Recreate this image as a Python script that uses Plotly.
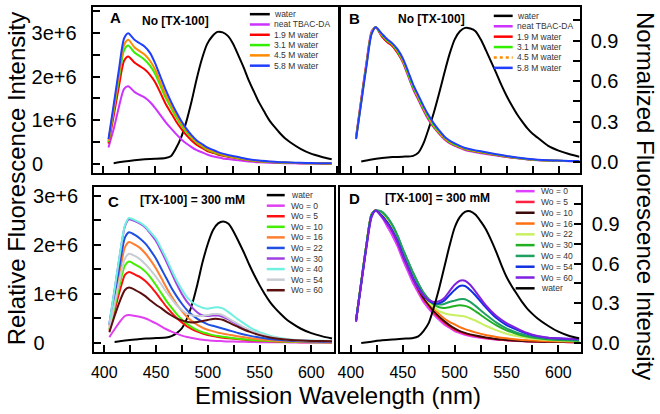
import plotly.graph_objects as go

# ---------------- data ----------------
WL = [405, 410, 415, 420, 424, 430, 435, 440, 445, 450, 455, 460, 465, 470, 475,
      480, 485, 490, 495, 500, 505, 510, 515, 520, 530, 540, 550, 560, 570, 580,
      590, 600, 610, 620]
WL_WATER = [410, 420, 430, 440, 450, 460, 465, 470, 475, 480, 485, 490, 495, 500,
            505, 510, 515, 520, 525, 530, 535, 540, 545, 550, 555, 560, 565, 570,
            575, 580, 590, 600, 610, 620]

# Panel A: relative intensity (units of 1e6)
A_WATER = [0.02, 0.06, 0.09, 0.11, 0.12, 0.14, 0.18, 0.36, 0.61, 0.97, 1.43, 1.95, 2.40, 2.74,
           2.92, 3.02, 3.01, 2.93, 2.75, 2.49, 2.22, 1.92, 1.66, 1.41, 1.20, 1.00, 0.85, 0.71,
           0.59, 0.50, 0.35, 0.24, 0.17, 0.11]
A_NEAT = [0.38, 0.80, 1.30, 1.72, 1.78, 1.65, 1.58, 1.52, 1.42, 1.28, 1.12, 0.96, 0.82, 0.69, 0.57,
          0.47, 0.39, 0.32, 0.27, 0.22, 0.18, 0.155, 0.13, 0.115, 0.085, 0.06, 0.043, 0.032, 0.024,
          0.019, 0.015, 0.013, 0.011, 0.01]
A_19M = [0.47, 1.10, 1.77, 2.36, 2.46, 2.32, 2.24, 2.16, 2.04, 1.87, 1.63, 1.38, 1.18, 0.98, 0.81,
         0.66, 0.54, 0.44, 0.37, 0.30, 0.26, 0.22, 0.19, 0.165, 0.125, 0.085, 0.061, 0.046, 0.034,
         0.027, 0.022, 0.018, 0.016, 0.014]
A_31M = [0.50, 1.22, 1.95, 2.60, 2.71, 2.55, 2.47, 2.38, 2.25, 2.06, 1.79, 1.52, 1.30, 1.08, 0.89,
         0.73, 0.60, 0.49, 0.41, 0.33, 0.28, 0.24, 0.21, 0.18, 0.135, 0.093, 0.067, 0.05, 0.037,
         0.029, 0.023, 0.02, 0.017, 0.015]
A_45M = [0.53, 1.28, 2.04, 2.72, 2.84, 2.67, 2.58, 2.50, 2.36, 2.16, 1.87, 1.59, 1.36, 1.14, 0.94,
         0.77, 0.63, 0.51, 0.43, 0.35, 0.30, 0.26, 0.22, 0.19, 0.145, 0.10, 0.072, 0.054, 0.04,
         0.031, 0.025, 0.021, 0.018, 0.016]
A_58M = [0.57, 1.35, 2.15, 2.87, 2.99, 2.84, 2.76, 2.68, 2.54, 2.30, 2.00, 1.70, 1.44, 1.20, 0.99,
         0.81, 0.66, 0.54, 0.46, 0.38, 0.33, 0.28, 0.24, 0.21, 0.16, 0.11, 0.08, 0.06, 0.045,
         0.035, 0.028, 0.024, 0.02, 0.018]

# Panel B: normalized intensity
B_WATER = [0.005, 0.02, 0.03, 0.037, 0.04, 0.046, 0.07, 0.14, 0.25, 0.37, 0.51, 0.66, 0.80, 0.91,
           0.97, 0.995, 0.99, 0.97, 0.91, 0.83, 0.745, 0.66, 0.57, 0.49, 0.42, 0.355, 0.30, 0.25,
           0.21, 0.18, 0.12, 0.085, 0.06, 0.04]
B_NEAT = [0.19, 0.47, 0.74, 0.97, 1.0, 0.93, 0.89, 0.86, 0.81, 0.74, 0.64, 0.54, 0.46, 0.38, 0.31,
          0.255, 0.21, 0.17, 0.14, 0.12, 0.105, 0.09, 0.08, 0.073, 0.06, 0.048, 0.037, 0.028, 0.02,
          0.014, 0.011, 0.009, 0.007, 0.006]
B_19M = [0.18, 0.46, 0.73, 0.96, 1.0, 0.93, 0.89, 0.86, 0.81, 0.745, 0.65, 0.55, 0.47, 0.39, 0.32,
         0.26, 0.215, 0.175, 0.145, 0.125, 0.11, 0.095, 0.085, 0.078, 0.065, 0.052, 0.04, 0.03, 0.021,
         0.015, 0.012, 0.01, 0.008, 0.007]
B_31M = [0.18, 0.45, 0.72, 0.96, 1.0, 0.94, 0.90, 0.87, 0.82, 0.75, 0.655, 0.555, 0.475, 0.395, 0.325,
         0.265, 0.218, 0.178, 0.148, 0.128, 0.112, 0.097, 0.087, 0.08, 0.067, 0.054, 0.042, 0.031, 0.022,
         0.015, 0.012, 0.01, 0.008, 0.007]
B_45M = [0.18, 0.45, 0.72, 0.96, 1.0, 0.94, 0.905, 0.875, 0.825, 0.755, 0.66, 0.56, 0.48, 0.40, 0.33,
         0.27, 0.22, 0.18, 0.15, 0.13, 0.114, 0.099, 0.089, 0.082, 0.069, 0.056, 0.043, 0.032, 0.022,
         0.015, 0.012, 0.01, 0.008, 0.007]
B_58M = [0.17, 0.44, 0.71, 0.95, 1.0, 0.95, 0.91, 0.88, 0.835, 0.77, 0.675, 0.575, 0.495, 0.415, 0.345,
         0.285, 0.235, 0.19, 0.16, 0.138, 0.12, 0.105, 0.095, 0.087, 0.073, 0.059, 0.046, 0.034, 0.024,
         0.017, 0.013, 0.011, 0.009, 0.008]

# Panel C: relative intensity (units of 1e6), [TX-100] = 300 mM
C_WATER = [0.02, 0.05, 0.07, 0.09, 0.10, 0.11, 0.14, 0.20, 0.30, 0.50, 0.80, 1.20, 1.65, 2.02,
           2.30, 2.44, 2.48, 2.43, 2.27, 2.06, 1.84, 1.60, 1.38, 1.18, 1.00, 0.84, 0.71, 0.60,
           0.50, 0.42, 0.29, 0.20, 0.14, 0.09]
C_W0 = [0.12, 0.28, 0.43, 0.55, 0.57, 0.55, 0.53, 0.50, 0.45, 0.40, 0.34, 0.28, 0.23, 0.19, 0.15,
        0.12, 0.10, 0.08, 0.065, 0.055, 0.045, 0.04, 0.035, 0.03, 0.025, 0.02, 0.017, 0.015, 0.013,
        0.012, 0.011, 0.01, 0.01, 0.01]
C_W5 = [0.25, 0.66, 1.06, 1.39, 1.45, 1.39, 1.34, 1.26, 1.15, 1.02, 0.88, 0.74, 0.62, 0.51, 0.42,
        0.34, 0.28, 0.23, 0.19, 0.16, 0.14, 0.12, 0.105, 0.095, 0.075, 0.057, 0.043, 0.033, 0.026,
        0.021, 0.017, 0.015, 0.013, 0.012]
C_W10 = [0.28, 0.74, 1.20, 1.58, 1.66, 1.60, 1.54, 1.45, 1.33, 1.18, 1.02, 0.86, 0.72, 0.59, 0.48,
         0.39, 0.32, 0.26, 0.22, 0.19, 0.16, 0.14, 0.125, 0.11, 0.085, 0.065, 0.05, 0.038, 0.03,
         0.024, 0.02, 0.017, 0.015, 0.013]
C_W16 = [0.33, 0.90, 1.45, 1.95, 2.06, 2.00, 1.93, 1.82, 1.68, 1.52, 1.33, 1.13, 0.95, 0.79, 0.65,
         0.53, 0.44, 0.37, 0.31, 0.27, 0.24, 0.21, 0.19, 0.17, 0.13, 0.10, 0.075, 0.055, 0.04,
         0.03, 0.025, 0.02, 0.018, 0.016]
C_W22 = [0.37, 0.98, 1.60, 2.15, 2.26, 2.20, 2.12, 2.02, 1.88, 1.72, 1.52, 1.32, 1.12, 0.95, 0.80,
         0.67, 0.57, 0.49, 0.43, 0.38, 0.35, 0.32, 0.29, 0.26, 0.20, 0.15, 0.11, 0.08, 0.06,
         0.045, 0.035, 0.03, 0.027, 0.025]
C_W30 = [0.40, 1.08, 1.78, 2.38, 2.52, 2.48, 2.43, 2.35, 2.22, 2.08, 1.88, 1.66, 1.43, 1.20, 1.00,
         0.84, 0.72, 0.62, 0.56, 0.55, 0.56, 0.56, 0.53, 0.48, 0.36, 0.26, 0.18, 0.12, 0.085,
         0.06, 0.048, 0.042, 0.038, 0.035]
C_W40 = [0.40, 1.10, 1.80, 2.40, 2.55, 2.50, 2.45, 2.37, 2.25, 2.13, 1.93, 1.72, 1.49, 1.27, 1.09,
         0.93, 0.83, 0.76, 0.72, 0.70, 0.72, 0.73, 0.70, 0.63, 0.47, 0.33, 0.22, 0.15, 0.10,
         0.07, 0.055, 0.05, 0.045, 0.04]
C_W54 = [0.30, 0.80, 1.30, 1.72, 1.82, 1.77, 1.70, 1.60, 1.48, 1.35, 1.20, 1.04, 0.90, 0.77, 0.67,
         0.60, 0.56, 0.55, 0.55, 0.57, 0.59, 0.59, 0.56, 0.50, 0.38, 0.27, 0.19, 0.13, 0.09,
         0.065, 0.05, 0.045, 0.04, 0.035]
C_W60 = [0.22, 0.55, 0.85, 1.08, 1.13, 1.08, 1.02, 0.95, 0.86, 0.78, 0.71, 0.63, 0.56, 0.50, 0.46,
         0.43, 0.42, 0.43, 0.45, 0.47, 0.49, 0.49, 0.47, 0.42, 0.32, 0.23, 0.16, 0.11, 0.08,
         0.06, 0.048, 0.042, 0.038, 0.035]

# Panel D: normalized intensity, [TX-100] = 300 mM
D_W0 = [0.17, 0.45, 0.73, 0.96, 1.0, 0.95, 0.88, 0.81, 0.73, 0.63, 0.54, 0.45, 0.38, 0.31, 0.26,
        0.215, 0.175, 0.14, 0.115, 0.09, 0.075, 0.062, 0.052, 0.045, 0.033, 0.025, 0.02, 0.015, 0.012,
        0.01, 0.008, 0.007, 0.006, 0.005]
D_W5 = [0.17, 0.46, 0.74, 0.97, 1.0, 0.96, 0.91, 0.84, 0.76, 0.66, 0.57, 0.48, 0.40, 0.33, 0.28,
        0.23, 0.19, 0.155, 0.125, 0.10, 0.085, 0.07, 0.06, 0.052, 0.038, 0.028, 0.021, 0.016, 0.012,
        0.01, 0.008, 0.007, 0.006, 0.005]
D_W10 = [0.17, 0.46, 0.74, 0.97, 1.0, 0.96, 0.91, 0.85, 0.77, 0.67, 0.58, 0.49, 0.41, 0.34, 0.29,
         0.24, 0.20, 0.165, 0.135, 0.11, 0.09, 0.076, 0.065, 0.056, 0.041, 0.03, 0.023, 0.017, 0.013,
         0.011, 0.009, 0.008, 0.007, 0.006]
D_W16 = [0.17, 0.46, 0.74, 0.97, 1.0, 0.98, 0.94, 0.88, 0.80, 0.70, 0.61, 0.52, 0.44, 0.37, 0.31,
         0.26, 0.22, 0.185, 0.16, 0.14, 0.12, 0.105, 0.092, 0.08, 0.06, 0.046, 0.035, 0.027, 0.021,
         0.017, 0.014, 0.012, 0.01, 0.009]
D_W22 = [0.17, 0.46, 0.74, 0.97, 1.0, 0.98, 0.94, 0.88, 0.80, 0.70, 0.61, 0.52, 0.44, 0.37, 0.31,
         0.27, 0.24, 0.225, 0.215, 0.21, 0.205, 0.20, 0.185, 0.17, 0.13, 0.097, 0.07, 0.052, 0.038,
         0.028, 0.022, 0.018, 0.016, 0.014]
D_W30 = [0.17, 0.46, 0.74, 0.97, 1.0, 0.99, 0.95, 0.89, 0.81, 0.71, 0.62, 0.53, 0.45, 0.38, 0.33,
         0.29, 0.27, 0.265, 0.27, 0.28, 0.285, 0.28, 0.265, 0.24, 0.185, 0.135, 0.095, 0.068, 0.048,
         0.035, 0.027, 0.022, 0.019, 0.017]
D_W40 = [0.17, 0.46, 0.74, 0.97, 1.0, 0.99, 0.95, 0.89, 0.81, 0.71, 0.62, 0.53, 0.45, 0.38, 0.33,
         0.30, 0.29, 0.295, 0.31, 0.32, 0.33, 0.33, 0.31, 0.28, 0.215, 0.155, 0.11, 0.078, 0.055,
         0.04, 0.031, 0.026, 0.022, 0.02]
D_W54 = [0.17, 0.45, 0.73, 0.96, 1.0, 0.96, 0.91, 0.85, 0.77, 0.67, 0.58, 0.49, 0.42, 0.36, 0.32,
         0.30, 0.30, 0.32, 0.36, 0.40, 0.43, 0.43, 0.40, 0.36, 0.27, 0.19, 0.135, 0.10, 0.07,
         0.05, 0.04, 0.034, 0.03, 0.028]
D_W60 = [0.16, 0.44, 0.72, 0.95, 1.0, 0.95, 0.90, 0.84, 0.76, 0.66, 0.57, 0.48, 0.41, 0.36, 0.325,
         0.31, 0.315, 0.34, 0.39, 0.44, 0.47, 0.47, 0.44, 0.39, 0.285, 0.205, 0.15, 0.11, 0.075,
         0.052, 0.04, 0.035, 0.032, 0.03]
D_WATER = [0.0, 0.01, 0.02, 0.027, 0.032, 0.037, 0.05, 0.09, 0.15, 0.27, 0.41, 0.57, 0.73, 0.87,
           0.95, 0.99, 0.995, 0.97, 0.92, 0.86, 0.78, 0.69, 0.59, 0.50, 0.43, 0.37, 0.31, 0.26,
           0.22, 0.185, 0.13, 0.085, 0.055, 0.035]

AB_NAMES = ["water", "neat TBAC-DA", "1.9 M water", "3.1 M water", "4.5 M water", "5.8 M water"]
AB_COLORS = ["#000000", "#cc33ff", "#ff0000", "#33ee00", "#ff8c00", "#1f3fff"]
C_NAMES = ["water", "Wo = 0", "Wo = 5", "Wo = 10", "Wo = 16", "Wo = 22", "Wo = 30", "Wo = 40",
           "Wo = 54", "Wo = 60"]
C_COLORS = ["#000000", "#e040f0", "#ff1010", "#44ee00", "#ff7f30", "#1f4fe0", "#a040e0",
            "#70f0e0", "#c8ccd4", "#5a1010"]
D_NAMES = ["Wo = 0", "Wo = 5", "Wo = 10", "Wo = 16", "Wo = 22", "Wo = 30", "Wo = 40", "Wo = 54",
           "Wo = 60", "water"]
D_COLORS = ["#e040ff", "#ff2040", "#3a0a0a", "#ff7010", "#c8f060", "#22b022", "#20a060",
            "#1030e0", "#8020e0", "#000000"]

NB = "\u00a0"
INT_TICKS = [0, 1, 2, 3]
INT_TICKTEXT = ["0" + NB * 6, "1e+6", "2e+6", "3e+6"]
NORM_TICKS = [0, 0.3, 0.6, 0.9]
NORM_TICKTEXT = ["0.0", "0.3", "0.6", "0.9"]

# ---------------- figure ----------------
W, H = 660, 414
FONT = "Liberation Sans, Arial, sans-serif"


def px_x(a, b):
    return [a / W, b / W]


def px_y(top, bottom):
    return [1 - bottom / H, 1 - top / H]


fig = go.Figure()


def add_lines(series, xs_list, colors, names, xa, ya, dashes=None):
    for i, (ys, xs, c, n) in enumerate(zip(series, xs_list, colors, names)):
        fig.add_trace(go.Scatter(
            x=xs, y=ys, mode="lines", name=n, showlegend=False,
            line=dict(color=c, width=2, shape="spline", smoothing=0.7,
                      dash=(dashes[i] if dashes else "solid")),
            xaxis=xa, yaxis=ya))


# Panel A
add_lines([A_WATER, A_NEAT, A_19M, A_31M, A_45M, A_58M],
          [WL_WATER] + [WL] * 5, AB_COLORS, AB_NAMES, "x", "y")
# Panel B
add_lines([B_WATER, B_NEAT, B_19M, B_31M, B_45M, B_58M],
          [WL_WATER] + [WL] * 5, AB_COLORS, AB_NAMES, "x2", "y2",
          dashes=["solid", "solid", "solid", "solid", "dot", "solid"])
# Panel C
add_lines([C_WATER, C_W0, C_W5, C_W10, C_W16, C_W22, C_W30, C_W40, C_W54, C_W60],
          [WL_WATER] + [WL] * 9, C_COLORS, C_NAMES, "x3", "y3")
# Panel D
add_lines([D_W0, D_W5, D_W10, D_W16, D_W22, D_W30, D_W40, D_W54, D_W60, D_WATER],
          [WL] * 9 + [WL_WATER], D_COLORS, D_NAMES, "x4", "y4")

common = dict(showline=True, linecolor="black", linewidth=2, mirror=True,
              ticks="inside", ticklen=7, tickwidth=1.5, tickcolor="black",
              showgrid=False, zeroline=False)


def xaxis(dom, rng, labels):
    return dict(common, domain=dom, range=rng, tickmode="linear", tick0=400, dtick=50,
                showticklabels=labels, ticklabelstandoff=5,
                tickfont=dict(family=FONT, size=16, color="black"),
                minor=dict(ticks="inside", ticklen=7, tickwidth=1.5, tickcolor="black",
                           tick0=400, dtick=25, showgrid=False))


def yaxis_int(dom, rng, anchor):
    return dict(common, domain=dom, range=rng, anchor=anchor, side="left",
                tickmode="array", tickvals=INT_TICKS, ticktext=INT_TICKTEXT,
                ticklabelstandoff=10,
                tickfont=dict(family=FONT, size=20, color="black"),
                minor=dict(ticks="inside", ticklen=7, tickwidth=1.5, tickcolor="black",
                           tickmode="array", tickvals=[0.5, 1.5, 2.5, 3.5], showgrid=False))


def yaxis_norm(dom, rng, anchor):
    return dict(common, domain=dom, range=rng, anchor=anchor, side="right",
                tickmode="array", tickvals=NORM_TICKS, ticktext=NORM_TICKTEXT,
                ticklabelstandoff=5,
                tickfont=dict(family=FONT, size=20, color="black"),
                minor=dict(ticks="inside", ticklen=7, tickwidth=1.5, tickcolor="black",
                           tickmode="array", tickvals=[0.15, 0.45, 0.75, 1.05], showgrid=False))


fig.update_layout(
    width=W, height=H, margin=dict(l=0, r=0, t=0, b=0),
    paper_bgcolor="white", plot_bgcolor="white", showlegend=False,
    font=dict(family=FONT, color="black"),
    xaxis=dict(xaxis(px_x(90, 337.7), [389.7, 627.2], False), anchor="y"),
    yaxis=yaxis_int(px_y(5, 172.7), [-0.204, 3.59], "x"),
    xaxis2=dict(xaxis(px_x(338.5, 579.3), [389.5, 620.3], False), anchor="y2"),
    yaxis2=yaxis_norm(px_y(5, 172.7), [-0.081, 1.15], "x2"),
    xaxis3=dict(xaxis(px_x(91.5, 333), [390.2, 622.4], True), anchor="y3"),
    yaxis3=yaxis_int(px_y(186.5, 353), [-0.176, 3.188], "x3"),
    xaxis4=dict(xaxis(px_x(338.5, 580.5), [389.5, 621.7], True), anchor="y4"),
    yaxis4=yaxis_norm(px_y(186.5, 353), [-0.065, 1.18], "x4"),
)


def ann(text, x, y, size, bold=False, angle=0, xanchor="center", color="black"):
    fig.add_annotation(text=f"<b>{text}</b>" if bold else text, x=x / W, y=1 - y / H,
                       xref="paper", yref="paper", showarrow=False, textangle=angle,
                       xanchor=xanchor, yanchor="middle",
                       font=dict(family=FONT, size=size, color=color))


# panel labels and titles
ann("A", 113, 15.5, 15, bold=True)
ann("No [TX-100]", 173, 19, 12, bold=True)
ann("B", 353, 16.5, 15, bold=True)
ann("No [TX-100]", 430, 17.5, 12, bold=True)
ann("C", 111, 201, 15, bold=True)
ann("[TX-100] = 300 mM", 190, 200, 12, bold=True)
ann("D", 353, 198, 15, bold=True)
ann("[TX-100] = 300 mM", 436.7, 198, 12, bold=True)

# axis titles
ann("Relative Fluorescence Intensity", 13, 178, 24, angle=-90)
ann("Emission Wavelength (nm)", 336.7, 397, 24)
ann("Normalized Fluorescence Intensity", 646, 196, 24, angle=90)


# in-panel legends
def legend(names, colors, x0, x1, xt, ytop, dy, dashes=None):
    for i, (n, c) in enumerate(zip(names, colors)):
        y = ytop + i * dy
        fig.add_shape(type="line", xref="paper", yref="paper",
                      x0=x0 / W, x1=x1 / W, y0=1 - y / H, y1=1 - y / H,
                      line=dict(color=c, width=2.5,
                                dash=(dashes[i] if dashes else "solid")))
        ann(n, xt, y, 8.5, xanchor="left", color="#333333")


legend(AB_NAMES, AB_COLORS, 248, 268, 270, 12.3, 10.4)
legend(AB_NAMES, AB_COLORS, 493, 512, 514, 14, 10.5,
       dashes=["solid", "solid", "solid", "solid", "dot", "solid"])
legend(C_NAMES, C_COLORS, 265, 283, 287, 195, 10.67)
legend(D_NAMES, D_COLORS, 515, 534, 538, 191, 10.9)

fig.write_html(
    "out.html",
    config={"displayModeBar": False},
    post_script="document.body.style.margin='0';document.body.style.overflow='hidden';",
)
